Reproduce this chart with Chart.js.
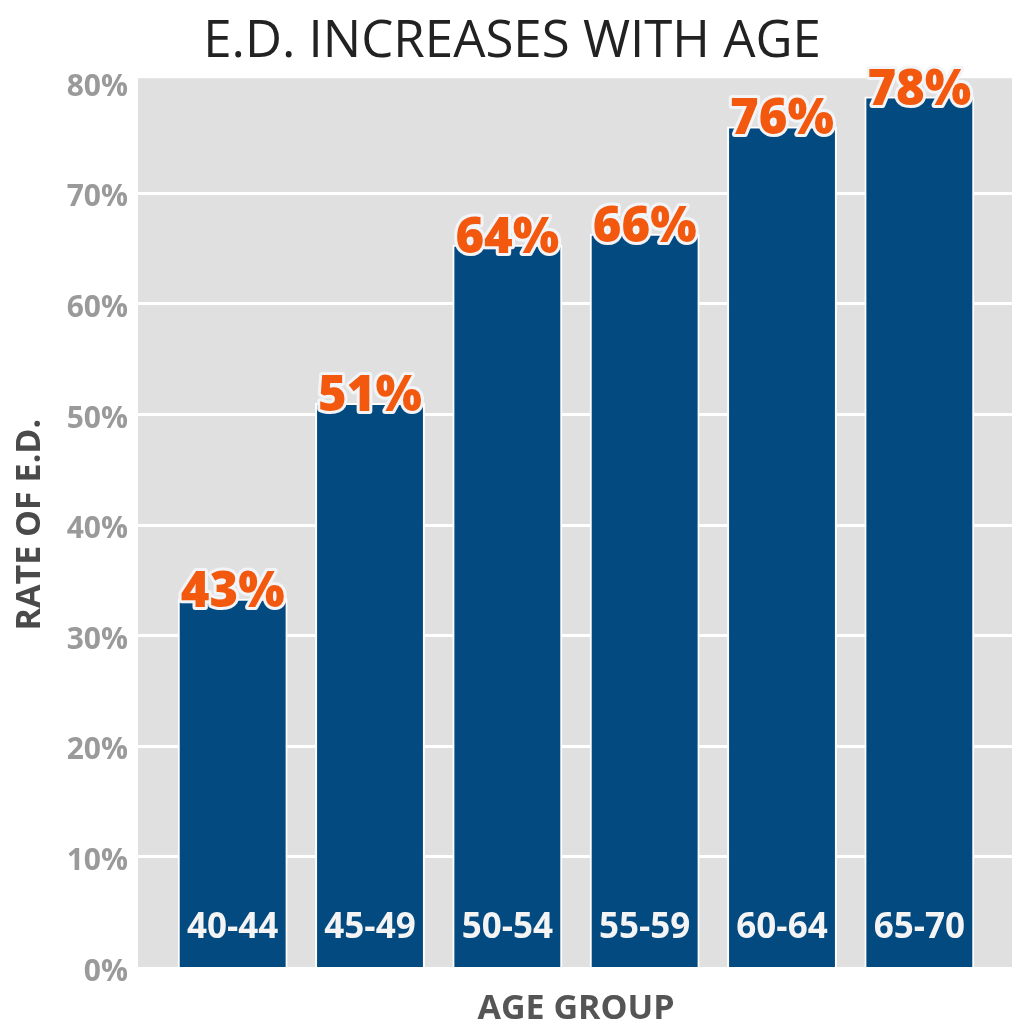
<!DOCTYPE html>
<html>
<head>
<meta charset="utf-8">
<script src="https://cdn.jsdelivr.net/npm/chart.js@4"></script>
<style>
  html, body { margin: 0; padding: 0; background: #ffffff; }
  #wrap { width: 1024px; height: 1024px; }
</style>
</head>
<body>
<div id="wrap"><canvas id="c" width="1024" height="1024"></canvas></div>
<script>
const categories = ['40-44', '45-49', '50-54', '55-59', '60-64', '65-70'];
const rates = [33.3, 51, 65.3, 66.3, 76, 78.7];
const rateLabels = ['43%', '51%', '64%', '66%', '76%', '78%'];
const yMin = 0;
const yMax = 80;
const yStep = 10;

const BAR_COLOR = '#034a80';
const PANEL_COLOR = '#e0e0e0';
const VALUE_COLOR = '#f2590f';

const panelPlugin = {
  id: 'panel',
  beforeDatasetsDraw(chart) {
    const { ctx, chartArea } = chart;
    const yScale = chart.scales.y;
    const left = chartArea.left - 26;
    const right = chartArea.right + 24;
    const top = chartArea.top - 4;
    const bottom = chartArea.bottom;
    ctx.save();
    ctx.fillStyle = PANEL_COLOR;
    ctx.fillRect(left, top, right - left, bottom - top);
    ctx.strokeStyle = '#ffffff';
    ctx.lineWidth = 3;
    yScale.ticks.forEach(t => {
      if (t.value <= yMin || t.value >= yMax) return;
      const y = Math.round(yScale.getPixelForValue(t.value)) + 0.5;
      ctx.beginPath();
      ctx.moveTo(left, y);
      ctx.lineTo(right, y);
      ctx.stroke();
    });
    ctx.restore();
  },
  afterDatasetsDraw(chart) {
    const { ctx } = chart;
    const meta = chart.getDatasetMeta(0);
    ctx.save();
    ctx.textAlign = 'center';
    ctx.textBaseline = 'middle';
    meta.data.forEach((el, i) => {
      ctx.font = 'bold 35px "Open Sans"';
      ctx.fillStyle = '#f4f4f4';
      ctx.fillText(categories[i], el.x, el.base - 39);
      ctx.font = '800 49px "Open Sans"';
      ctx.lineJoin = 'round';
      ctx.lineWidth = 6;
      ctx.strokeStyle = '#f2f4f7';
      ctx.strokeText(rateLabels[i], el.x, el.y - 6);
      ctx.fillStyle = VALUE_COLOR;
      ctx.fillText(rateLabels[i], el.x, el.y - 6);
    });
    ctx.restore();
  }
};

new Chart(document.getElementById('c'), {
  type: 'bar',
  data: {
    labels: categories,
    datasets: [{
      data: rates,
      backgroundColor: BAR_COLOR,
      borderColor: '#ffffff',
      borderWidth: 2,
      categoryPercentage: 1,
      barPercentage: 0.8
    }]
  },
  options: {
    responsive: false,
    devicePixelRatio: 1,
    animation: false,
    layout: { padding: 0 },
    plugins: {
      legend: { display: false },
      tooltip: { enabled: false },
      title: {
        display: true,
        text: 'E.D. INCREASES WITH AGE',
        color: '#222222',
        font: { family: 'Open Sans', size: 51, weight: 'normal', lineHeight: 1.2 },
        padding: { top: 12, bottom: 9 }
      }
    },
    scales: {
      x: {
        grid: { display: false, drawTicks: false },
        border: { display: false },
        ticks: { display: false },
        title: {
          display: true,
          text: 'AGE GROUP',
          color: '#555555',
          font: { family: 'Open Sans', size: 34, weight: 'bold', lineHeight: 0.85 },
          padding: { top: 0, bottom: 0 }
        },
        afterFit(scale) { scale.height = 57; }
      },
      y: {
        min: yMin,
        max: yMax,
        grid: { display: false, drawTicks: false },
        border: { display: false },
        ticks: {
          stepSize: yStep,
          padding: 36,
          labelOffset: 5,
          color: '#9a9a9a',
          font: { family: 'Open Sans', size: 30, weight: 'bold' },
          callback: v => v + '%'
        },
        title: {
          display: true,
          text: 'RATE OF E.D.',
          color: '#4a4a4a',
          font: { family: 'Open Sans', size: 34, weight: 'bold', lineHeight: 1.2 },
          padding: { top: 10, bottom: 0 }
        },
        afterFit(scale) { scale.width = 164; }
      },
      yRight: {
        type: 'linear',
        position: 'right',
        display: true,
        grid: { display: false, drawTicks: false },
        border: { display: false },
        ticks: { display: false },
        afterFit(scale) { scale.width = 36; }
      }
    }
  },
  plugins: [panelPlugin]
});
</script>
</body>
</html>
